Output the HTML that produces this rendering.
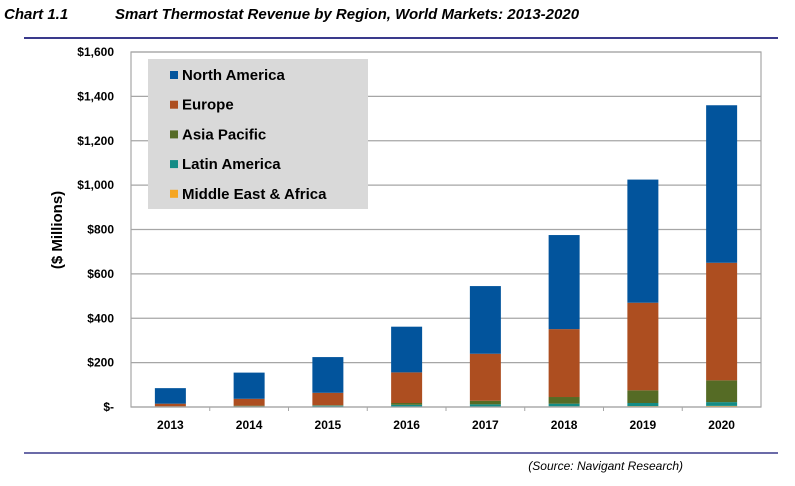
<!DOCTYPE html>
<html><head><meta charset="utf-8"><style>
body{margin:0;background:#fff;width:795px;height:481px;overflow:hidden;font-family:"Liberation Sans",Arial,sans-serif}
</style></head><body>
<svg width="795" height="481" xmlns="http://www.w3.org/2000/svg">
<text x="4" y="19" font-size="15" font-weight="bold" font-style="italic">Chart 1.1</text>
<text x="115" y="19" font-size="15" font-weight="bold" font-style="italic">Smart Thermostat Revenue by Region, World Markets:  2013-2020</text>
<line x1="24" y1="38" x2="778" y2="38" stroke="#3a3a8c" stroke-width="2"/>
<line x1="24" y1="453" x2="778" y2="453" stroke="#3a3a8c" stroke-width="1.5"/>
<text x="683" y="470" font-size="12" font-style="italic" text-anchor="end">(Source: Navigant Research)</text>
<g id="grid"></g><g id="bars"></g><g id="axes"></g>
<g>
<rect x="148" y="59" width="220" height="150" fill="#d9d9d9"/>
<g id="legend"></g>
</g>
<text transform="translate(62,230) rotate(-90)" font-size="15" font-weight="bold" text-anchor="middle">($ Millions)</text>
</svg>
<script>
const categories=["2013","2014","2015","2016","2017","2018","2019","2020"];
const seriesNames=["Middle East & Africa","Latin America","Asia Pacific","Europe","North America"];
const mea=[0.5,1,1,2,2,3,4,5];
const latam=[1,2,5,8,10,12,14,17];
const asia=[1.5,3,2,8,16,30,57,98];
const europe=[12,31,56,138,212,306,395,530];
const northAmerica=[70,118,161,206,305,424,555,710];
const yTicks=[0,200,400,600,800,1000,1200,1400,1600];
const yTickLabels=["$-","$200","$400","$600","$800","$1,000","$1,200","$1,400","$1,600"];
const colors=["#f5a623","#138c86","#556b25","#ad4e20","#02549c"];
const NS="http://www.w3.org/2000/svg";
const x0=131,x1=761,yTop=52,yBot=407,yMax=1600;
const y=v=>yBot-(v/yMax)*(yBot-yTop);
const bw=(x1-x0)/categories.length;
const xc=i=>x0+bw*(i+0.5);
function mk(t,a,p){const e=document.createElementNS(NS,t);for(const k in a)e.setAttribute(k,a[k]);p.appendChild(e);return e;}
const grid=document.getElementById('grid'),axes=document.getElementById('axes'),bars=document.getElementById('bars'),leg=document.getElementById('legend');
yTicks.forEach((v,i)=>{
 if(v>0){const l=mk('line',{x1:x0,x2:x1,y1:y(v),y2:y(v),stroke:'#a6a6a6','stroke-width':1.2},grid);
 
 }
 const t=mk('text',{x:114,y:y(v)+4,'font-size':12,'font-weight':'bold','text-anchor':'end'},axes);t.textContent=yTickLabels[i];
 
 
});
mk('rect',{x:x0,y:yTop,width:x1-x0,height:yBot-yTop,fill:'none',stroke:'#a6a6a6','stroke-width':1.2},grid);
const series=[mea,latam,asia,europe,northAmerica];
categories.forEach((c,i)=>{
 let cum=0;
 series.forEach((s,k)=>{
  const r=mk('rect',{x:xc(i)-15.5,y:y(cum+s[i]),width:31,height:y(cum)-y(cum+s[i]),fill:colors[k]},bars);
  
  
  cum+=s[i];
 });
 const t=mk('text',{x:xc(i),y:429,'font-size':12,'font-weight':'bold','text-anchor':'middle'},axes);t.textContent=c;
 
 
 if(i>0){mk('line',{x1:x0+bw*i,x2:x0+bw*i,y1:yBot,y2:yBot+4,stroke:'#a6a6a6'},axes);}
});
mk('line',{x1:x0,x2:x1,y1:yBot,y2:yBot,stroke:'#a6a6a6','stroke-width':1.2},axes);
for(let k=4;k>=0;k--){
 const j=4-k, yy=80+j*29.7;
 const r=mk('rect',{x:170,y:yy-9,width:8,height:8,fill:colors[k]},leg);
 
 
 const t=mk('text',{x:182,y:yy,'font-size':15,'font-weight':'bold'},leg);t.textContent=seriesNames[k];
 
 
}
</script>
</body></html>
